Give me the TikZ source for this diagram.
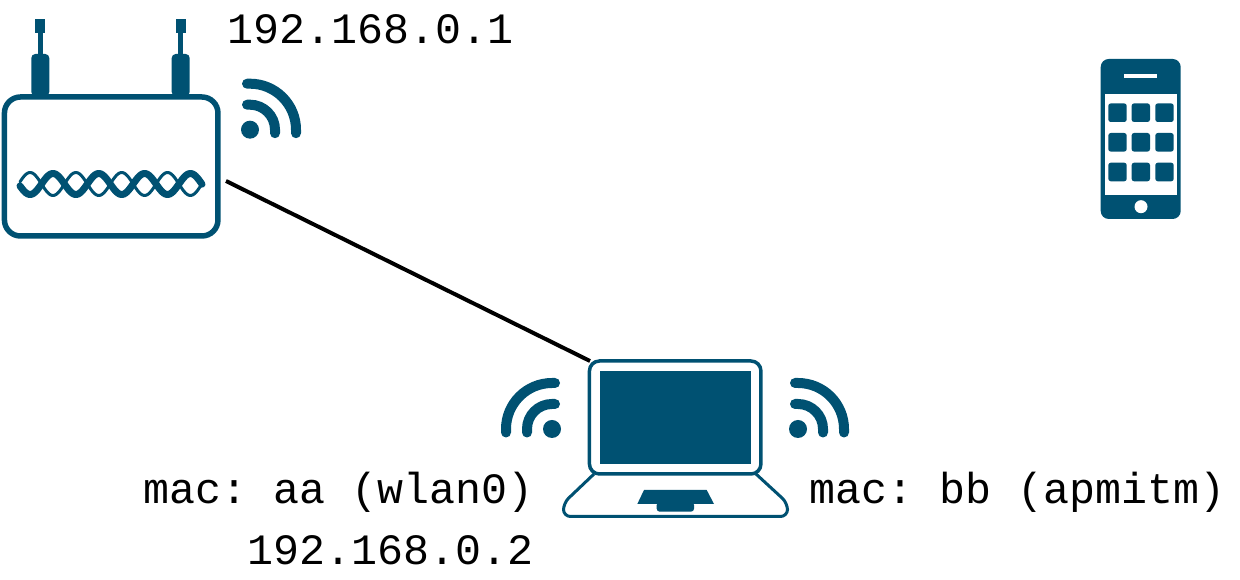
\documentclass[tikz,border=0pt]{standalone}
\usepackage{fontspec}
\setmonofont{Liberation Mono}
\definecolor{icon}{HTML}{005172}

\begin{document}
\begin{tikzpicture}[
    x=1pt, y=1pt,
    font=\ttfamily\fontsize{43.3}{52}\selectfont,
    label/.style={anchor=base west, inner sep=0pt},
    wire/.style={line width=4pt, black},
    body/.style={draw=icon, fill=white, inner sep=0pt, outer sep=0pt},
    patch/.style={fill=icon, inner sep=0pt, outer sep=0pt},
    wifi/.pic={
        \fill[icon] (0,0) circle (9);
        \draw[icon, line width=10pt, line cap=round] (-3,25) -- (0,25) arc (90:0:25) -- (25,-3.5);
        \draw[icon, line width=10pt, line cap=round] (-3,46) -- (0,46) arc (90:0:46) -- (46,-3.5);
    }
]
    \useasboundingbox (0,0) rectangle (1240,580);

    \coordinate (routerport) at (226,399);
    \coordinate (laptopcorner) at (590,219);
    \draw[wire] (routerport) -- (laptopcorner);

    \foreach \antx in {40.3,180.7} {
        \fill[icon] (\antx-5,547) rectangle (\antx+5,561);
        \fill[icon] (\antx-2.5,520) rectangle (\antx+2.5,548);
        \fill[icon, rounded corners=4pt] (\antx-9,484) -- (\antx-9,526) -- (\antx+9,526) -- (\antx+9,484) -- cycle;
    }
    \node[body, line width=5.5pt, rounded corners=16pt, minimum width=213.5pt, minimum height=139pt] (router) at (111.2,413.5) {};
    \draw[icon, line width=7pt, line cap=round] plot[domain=20:202, samples=120, smooth] (\x,{396+10.5*cos(7.86*(\x-53))});
    \draw[icon, line width=3pt, line cap=round] plot[domain=20:202, samples=120, smooth] (\x,{396-11.5*cos(7.86*(\x-53))});
    \pic (routerwifi) at (250,450.3) {wifi};
    \node[label] (routerip) at (227.5,536.7) {192.168.0.1};

    \draw[draw=icon, fill=white, line width=3pt, rounded corners=7pt] (594,106) -- (563.5,77) -- (563.5,63.5) -- (787.5,63.5) -- (787.5,77) -- (756,106);
    \node[body, line width=3.5pt, rounded corners=10pt, minimum width=171.5pt, minimum height=113pt] (laptop) at (675.2,162.5) {};
    \node[patch, minimum width=151.3pt, minimum height=93pt] (screen) at (675.3,162.5) {};
    \fill[icon] (644,90) -- (706.7,90) -- (714,76) -- (637.3,76) -- cycle;
    \fill[icon, rounded corners=3pt] (656.7,78) -- (656.7,68.3) -- (694,68.3) -- (694,78) -- cycle;
    \pic (laptopwifiright) at (798,151) {wifi};
    \pic[xscale=-1] (laptopwifileft) at (552,151) {wifi};
    \node[label] (wlan) at (143.5,76.7) {mac: aa (wlan0)};
    \node[label] (laptopip) at (247.5,15) {192.168.0.2};
    \node[label] (apmitm) at (809.5,76.7) {mac: bb (apmitm)};

    \node[patch, rounded corners=8pt, minimum width=80pt, minimum height=160pt] (phone) at (1140.7,441) {};
    \node[fill=white, inner sep=0pt, minimum width=32.7pt, minimum height=4pt] (speaker) at (1140.7,503.7) {};
    \node[fill=white, inner sep=0pt, minimum width=72.3pt, minimum height=100.7pt] (display) at (1140.8,435.3) {};
    \foreach \col/\colx in {a/1117.5,b/1140.8,c/1164.5} {
        \foreach \row/\rowy in {a/467.3,b/437.7,c/408} {
            \node[patch, rounded corners=2.5pt, minimum width=18.4pt, minimum height=18.6pt] (app\col\row) at (\colx,\rowy) {};
        }
    }
    \node[circle, fill=white, inner sep=0pt, minimum size=13pt] (homekey) at (1141,373.3) {};
\end{tikzpicture}
\end{document}
